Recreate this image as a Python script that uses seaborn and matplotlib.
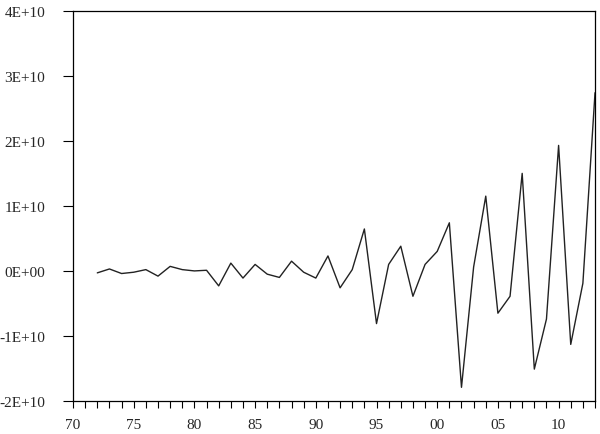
import matplotlib
matplotlib.use("Agg")
import matplotlib.pyplot as plt
import matplotlib.ticker as mticker
import seaborn as sns
import pandas as pd

years = list(range(1972, 2014))
# values in units of 1E+10
values = [-0.03, 0.03, -0.04, -0.02, 0.02, -0.08, 0.07, 0.02, 0.00, 0.01,
          -0.23, 0.12, -0.11, 0.10, -0.05, -0.10, 0.15, -0.02, -0.11, 0.23,
          -0.26, 0.02, 0.645, -0.81, 0.10, 0.38, -0.39, 0.10, 0.30, 0.74,
          -1.79, 0.06, 1.15, -0.65, -0.39, 1.50, -1.51, -0.74, 1.93, -1.13,
          -0.19, 2.74]

df = pd.DataFrame({'year': years, 'value': [v * 1e10 for v in values]})

sns.set_style('ticks')
plt.rcParams['font.family'] = ['Liberation Serif', 'DejaVu Serif']

fig = plt.figure(figsize=(6, 4.35), dpi=100)
ax = fig.add_axes([0.1217, 0.0759, 0.87, 0.897])
sns.lineplot(data=df, x='year', y='value', color='#222222', linewidth=1.0, ax=ax)

ax.set_xlim(1970, 2013)
ax.set_ylim(-2e10, 4e10)
ax.set_xlabel('')
ax.set_ylabel('')

ax.xaxis.set_major_locator(mticker.MultipleLocator(5))
ax.xaxis.set_minor_locator(mticker.MultipleLocator(1))
ax.xaxis.set_major_formatter(mticker.FuncFormatter(lambda v, p: f"{int(round(v)) % 100:02d}"))
ax.yaxis.set_major_locator(mticker.MultipleLocator(1e10))
ax.yaxis.set_major_formatter(mticker.FuncFormatter(lambda v, p: f"{v:.0E}"))

ax.tick_params(axis='x', which='both', direction='out', length=5, width=0.8,
               labelsize=11, pad=7, color='black')
ax.tick_params(axis='y', which='major', direction='out', length=7, width=0.8,
               labelsize=11, pad=13, color='black')
for s in ax.spines.values():
    s.set_visible(True)
    s.set_color('black')
    s.set_linewidth(0.9)

fig.savefig('out.png', dpi=100)
